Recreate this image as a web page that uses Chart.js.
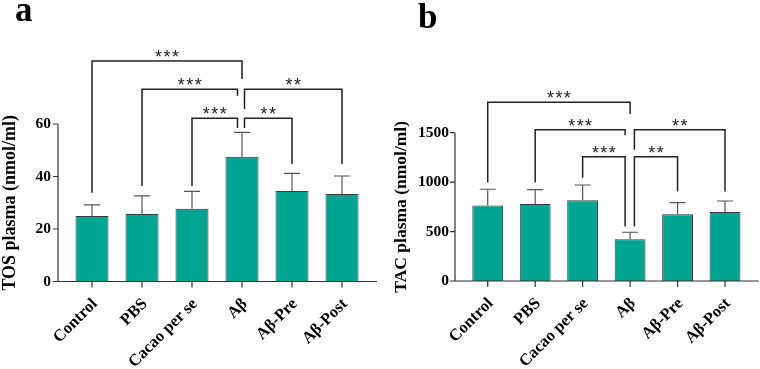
<!DOCTYPE html>
<html>
<head>
<meta charset="utf-8">
<script src="https://cdn.jsdelivr.net/npm/chart.js@4.4.1/dist/chart.umd.min.js"></script>
<style>
  html, body { margin: 0; padding: 0; background: #fff; }
  #wrap { position: relative; width: 760px; height: 369px; }
  canvas { position: absolute; top: 0; }
</style>
</head>
<body>
<div id="wrap">
  <canvas id="chartA" width="380" height="369" style="left:0"></canvas>
  <canvas id="chartB" width="380" height="369" style="left:380px"></canvas>
</div>
<script>
// Datos
const categories = ['Control', 'PBS', 'Cacao per se', 'Aβ', 'Aβ-Pre', 'Aβ-Post'];
const tosMean = [25.0, 25.7, 27.7, 47.5, 34.5, 33.3];
const tosSd = [4.2, 6.9, 6.6, 9.3, 6.7, 6.9];
const tacMean = [764, 779, 816, 422, 675, 698];
const tacSd = [164, 145, 155, 71, 117, 111];
const tosTicks = [0, 20, 40, 60];
const tacTicks = [0, 500, 1000, 1500];

// Comparaciones (nivel y extremos de las patas en unidades del eje)
const tosBrackets = [
  { from: 0, to: 3, level: 84, ends: [33.8, 77.1], label: '***' },
  { from: 1, to: 3, level: 73.2, ends: [36.4, 70.8], toShift: -4.5, label: '***' },
  { from: 3, to: 5, level: 73.2, ends: [65.7, 44.8], fromShift: 2.5, label: '**' },
  { from: 2, to: 3, level: 62.2, ends: [36.4, 58.5], toShift: -4.5, label: '***' },
  { from: 3, to: 4, level: 62.2, ends: [58.5, 44.8], fromShift: 2.5, label: '**' }
];
const tacBrackets = [
  { from: 0, to: 3, level: 1807, ends: [996, 1690], label: '***' },
  { from: 1, to: 3, level: 1530, ends: [996, 1473], toShift: -5, label: '***' },
  { from: 3, to: 5, level: 1530, ends: [1328, 905], fromShift: 4.3, label: '**' },
  { from: 2, to: 3, level: 1257, ends: [1044, 552], toShift: -5, label: '***' },
  { from: 3, to: 4, level: 1257, ends: [552, 905], fromShift: 4.3, label: '**' }
];

const serif = "'Liberation Serif', 'Times New Roman', serif";
const barColor = '#00a591';

// Ejes estilo GraphPad, barras de error, corchetes y letra del panel
const extras = {
  id: 'extras',
  afterDatasetsDraw(chart, args, opts) {
    const ctx = chart.ctx;
    const xs = chart.scales.x, ys = chart.scales.y, area = chart.chartArea;
    const mean = chart.data.datasets[0].data;
    ctx.save();

    // barras de error (solo hacia arriba)
    ctx.strokeStyle = '#555';
    ctx.lineWidth = 1.2;
    mean.forEach((m, i) => {
      const cx = xs.getPixelForValue(i);
      const y0 = ys.getPixelForValue(m);
      const y1 = ys.getPixelForValue(m + opts.sd[i]);
      ctx.beginPath();
      ctx.moveTo(cx, y0); ctx.lineTo(cx, y1);
      ctx.moveTo(cx - opts.cap, y1); ctx.lineTo(cx + opts.cap, y1);
      ctx.stroke();
    });

    // ejes
    const ax = area.left - opts.axisGap;
    ctx.strokeStyle = '#333';
    ctx.lineWidth = 1.2;
    ctx.beginPath();
    ctx.moveTo(ax, ys.getPixelForValue(ys.max));
    ctx.lineTo(ax, area.bottom);
    ctx.lineTo(area.right + opts.tail, area.bottom);
    ys.ticks.forEach(t => {
      const py = ys.getPixelForValue(t.value);
      ctx.moveTo(ax - 5, py); ctx.lineTo(ax, py);
    });
    mean.forEach((m, i) => {
      const px = xs.getPixelForValue(i);
      ctx.moveTo(px, area.bottom); ctx.lineTo(px, area.bottom + 6);
    });
    ctx.stroke();

    // corchetes de significancia
    ctx.strokeStyle = '#222';
    ctx.lineWidth = 1.5;
    ctx.fillStyle = '#222';
    ctx.font = "18px 'Liberation Sans', Arial, sans-serif";
    ctx.textAlign = 'center';
    ctx.textBaseline = 'alphabetic';
    opts.brackets.forEach(b => {
      const x1 = xs.getPixelForValue(b.from) + (b.fromShift || 0);
      const x2 = xs.getPixelForValue(b.to) + (b.toShift || 0);
      const yl = ys.getPixelForValue(b.level);
      ctx.beginPath();
      ctx.moveTo(x1, ys.getPixelForValue(b.ends[0]));
      ctx.lineTo(x1, yl);
      ctx.lineTo(x2, yl);
      ctx.lineTo(x2, ys.getPixelForValue(b.ends[1]));
      ctx.stroke();
      const n = b.label.length, mid = (x1 + x2) / 2;
      for (let k = 0; k < n; k++) {
        ctx.fillText('*', mid + (k - (n - 1) / 2) * 8.4, yl + 2);
      }
    });

    // letra del panel
    ctx.fillStyle = '#000';
    ctx.textAlign = 'left';
    ctx.font = 'bold 35px ' + serif;
    ctx.fillText(opts.letter, opts.letterX, opts.letterY);
    ctx.restore();
  }
};

function makeChart(canvasId, mean, sd, tickValues, brackets, cfg) {
  return new Chart(document.getElementById(canvasId), {
    type: 'bar',
    data: {
      labels: categories,
      datasets: [{
        data: mean,
        backgroundColor: barColor,
        borderColor: '#3a3a3a',
        borderWidth: 1,
        borderSkipped: 'bottom',
        barPercentage: cfg.barPct,
        categoryPercentage: 1
      }]
    },
    options: {
      responsive: false,
      animation: false,
      layout: { padding: { left: cfg.padLeft, right: cfg.padRight, top: cfg.padTop, bottom: 0 } },
      plugins: {
        legend: { display: false },
        tooltip: { enabled: false },
        extras: {
          sd: sd, brackets: brackets, cap: 8, axisGap: cfg.axisGap, tail: cfg.tail,
          letter: cfg.letter, letterX: cfg.letterX, letterY: cfg.letterY
        }
      },
      scales: {
        x: {
          grid: { display: false, drawTicks: false },
          border: { display: false },
          ticks: {
            color: '#000',
            minRotation: 45,
            maxRotation: 45,
            padding: cfg.xPad,
            labelOffset: 3,
            font: { family: serif, size: 16.5, weight: 'bold' }
          },
          afterFit: s => { s.height = cfg.xHeight; }
        },
        y: {
          min: 0,
          max: tickValues[tickValues.length - 1],
          grid: { display: false, drawTicks: false },
          border: { display: false },
          afterBuildTicks: s => { s.ticks = tickValues.map(v => ({ value: v })); },
          ticks: {
            color: '#000',
            padding: cfg.yPad,
            callback: v => String(v),
            font: { family: serif, size: 15.5, weight: 'bold' }
          },
          title: {
            display: true,
            text: cfg.yTitle,
            color: '#000',
            padding: 0,
            font: { family: serif, size: cfg.titleSize, weight: 'bold' }
          },
          afterFit: s => { s.width = cfg.yWidth; }
        }
      }
    },
    plugins: [extras]
  });
}

makeChart('chartA', tosMean, tosSd, tosTicks, tosBrackets, {
  barPct: 0.66, padLeft: 0, padRight: 13, padTop: 124, xHeight: 87.5,
  yWidth: 67, yPad: 16, xPad: 13, axisGap: 9, tail: 10,
  yTitle: 'TOS plasma (nmol/ml)', titleSize: 18,
  letter: 'a', letterX: 15, letterY: 21
});

makeChart('chartB', tacMean, tacSd, tacTicks, tacBrackets, {
  barPct: 0.65, padLeft: 11, padRight: 11.25, padTop: 132.7, xHeight: 88,
  yWidth: 73, yPad: 15, xPad: 13, axisGap: 9, tail: 10,
  yTitle: 'TAC plasma (nmol/ml)', titleSize: 17.5,
  letter: 'b', letterX: 38, letterY: 28
});
</script>
</body>
</html>
